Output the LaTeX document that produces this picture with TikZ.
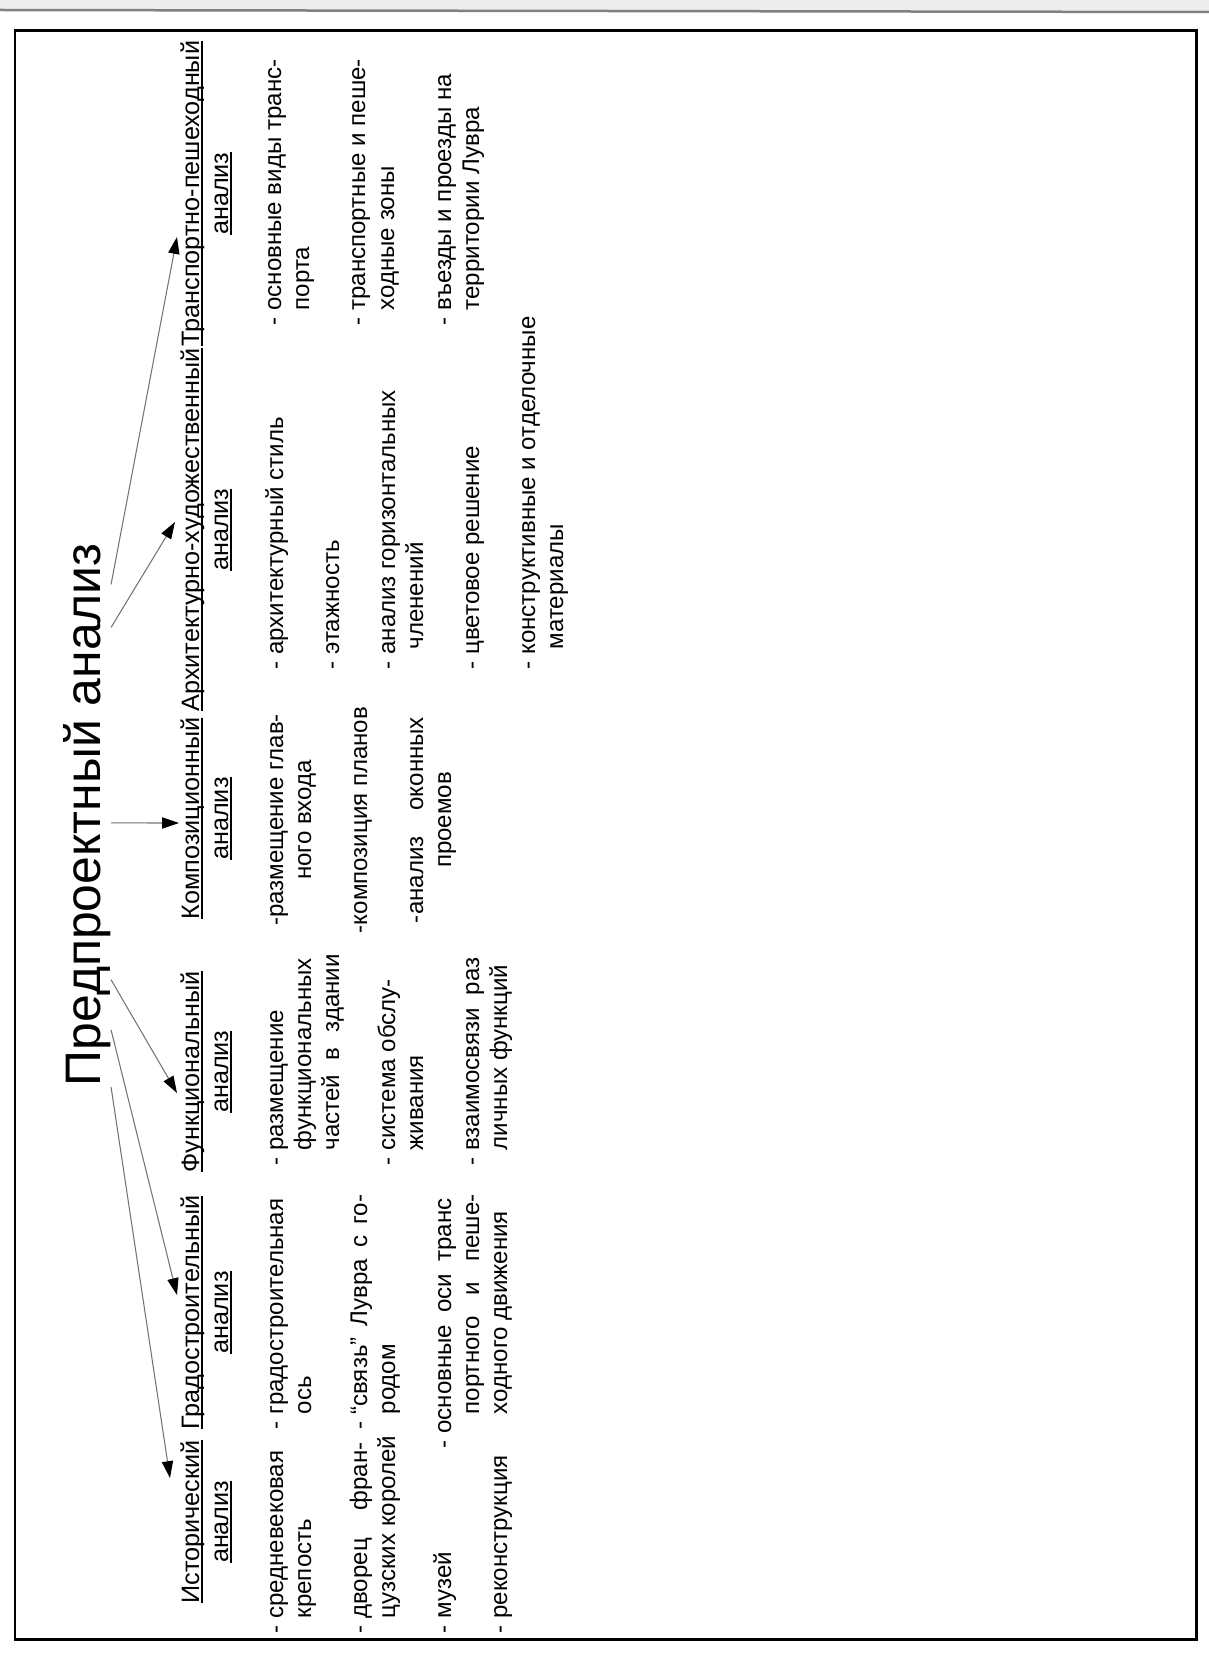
\documentclass[tikz,border=0pt]{standalone}
\usepackage{fontspec}
\setmainfont{Liberation Sans}
\usetikzlibrary{arrows.meta,calc}

% word underline at a fixed depth, as in the scanned table
\newcommand\ulword[1]{\setbox0\hbox{#1}\rlap{\rule[-0.14em]{\wd0}{0.07em}}\box0}

\begin{document}
\begin{tikzpicture}[
  x=0.1mm, y=-0.1mm,
  ttl/.style={rotate=90, anchor=base west, inner sep=0pt, font=\fontsize{14.2}{17}\selectfont},
  hd/.style={rotate=90, anchor=base west, inner sep=0pt, font=\fontsize{7.17}{8.6}\selectfont},
  hd2/.style={hd, anchor=base},
  itm/.style={rotate=90, anchor=base west, inner sep=0pt, font=\fontsize{6.85}{8.2}\selectfont},
  itmc/.style={itm, anchor=base},
  arrow/.style={draw=black!55, line width=0.3pt, -{Triangle[length=4.8pt,width=3.2pt,color=black]}}
]
\useasboundingbox (0,0) rectangle (1209,1653);
% scan edge and frame
\fill[black!7] (0,0) rectangle (1209,10);
\draw[black!50, line width=0.25mm] (0,10) -- (1209,12);
\draw[line width=0.85pt] (15,31) rectangle (1196,1639);

% title
\node[ttl] (title) at (100,1087) {Предпроектный анализ};

% headings
\node[hd] (hHist) at (199,1604) {\ulword{Исторический}};
\node[hd2] (aHist) at ($(hHist.base)+(29,0)$) {\ulword{анализ}};
\node[hd] (hGrad) at (199,1430) {\ulword{Градостроительный}};
\node[hd2] (aGrad) at ($(hGrad.base)+(29,0)$) {\ulword{анализ}};
\node[hd] (hFunc) at (199,1173) {\ulword{Функциональный}};
\node[hd2] (aFunc) at ($(hFunc.base)+(29,0)$) {\ulword{анализ}};
\node[hd] (hComp) at (199,920) {\ulword{Композиционный}};
\node[hd2] (aComp) at ($(hComp.base)+(29,0)$) {\ulword{анализ}};
\node[hd] (hArch) at (199,712) {\ulword{Архитектурно-художественный}};
\node[hd2] (aArch) at ($(hArch.base)+(29,0)$) {\ulword{анализ}};
\node[hd] (hTrans) at (199,347) {\ulword{Транспортно-пешеходный}};
\node[hd2] (aTrans) at ($(hTrans.base)+(29,0)$) {\ulword{анализ}};

% arrow tips
\coordinate (tHist) at (170,1478);
\coordinate (tGrad) at (177,1295);
\coordinate (tFunc) at (177,1093);
\coordinate (tComp) at (179,823);
\coordinate (tArch) at (175,522);
\coordinate (tTrans) at (177,237);
\draw[arrow] (title.south west) -- (tHist);
\draw[arrow] ($(title.south west)!0.105!(title.south east)$) -- (tGrad);
\draw[arrow] ($(title.south west)!0.197!(title.south east)$) -- (tFunc);
\draw[arrow] ($(title.south west)!0.485!(title.south east)$) -- (tComp);
\draw[arrow] ($(title.south west)!0.844!(title.south east)$) -- (tArch);
\draw[arrow] ($(title.south west)!0.923!(title.south east)$) -- (tTrans);

% historical
\node[itm] (hist1) at (283,1634) {- средневековая};
\node[itm] (hist2) at (311,1619) {крепость};
\node[itm] (hist3) at (367,1634) {- \makebox[17.6mm][s]{дворец фран-}};
\node[itm] (hist4) at (395,1619) {цузских королей};
\node[itm] (hist5) at (451,1634) {- музей};
\node[itm] (hist6) at (507,1634) {- реконструкция};

% town planning
\node[itm] (grad1) at (283,1430) {- градостроительная};
\node[itm] (grad2) at (311,1415) {ось};
\node[itm] (grad3) at (367,1430) {- \makebox[22mm][s]{“связь” Лувра с го-}};
\node[itm] (grad4) at (395,1415) {родом};
\node[itm] (grad5) at (451,1449) {- \makebox[23.5mm][s]{основные оси транс}};
\node[itm] (grad6) at (479,1415) {\makebox[22mm][s]{портного и пеше-}};
\node[itm] (grad7) at (507,1415) {ходного движения};

% functional
\node[itm] (func1) at (283,1166) {- размещение};
\node[itm] (func2) at (311,1151) {функциональных};
\node[itm] (func3) at (339,1151) {\makebox[19.6mm][s]{частей в здании}};
\node[itm] (func4) at (395,1166) {- система обслу-};
\node[itm] (func5) at (423,1151) {живания};
\node[itm] (func6) at (479,1166) {- \makebox[19.3mm][s]{взаимосвязи раз}};
\node[itm] (func7) at (507,1151) {личных функций};

% composition
\node[itmc] (comp1) at (283,820) {-размещение глав-};
\node[itmc] (comp2) at (311,820) {ного входа};
\node[itmc] (comp3) at (367,820) {-композиция планов};
\node[itmc] (comp4) at (423,820) {\makebox[20.6mm][s]{-анализ оконных}};
\node[itmc] (comp5) at (451,820) {проемов};

% architecture
\node[itm] (arch1) at (283,670) {- архитектурный стиль};
\node[itm] (arch2) at (339,670) {- этажность};
\node[itm] (arch3) at (395,670) {- анализ горизонтальных};
\node[itm] (arch4) at (423,650) {членений};
\node[itm] (arch5) at (479,670) {- цветовое решение};
\node[itm] (arch6) at (535,670) {- конструктивные и отделочные};
\node[itm] (arch7) at (563,650) {материалы};

% transport
\node[itm] (trans1) at (281,326) {- основные виды транс-};
\node[itm] (trans2) at (309,311) {порта};
\node[itm] (trans3) at (365,326) {- транспортные и пеше-};
\node[itm] (trans4) at (394,311) {ходные зоны};
\node[itm] (trans5) at (451,326) {- въезды и проезды на};
\node[itm] (trans6) at (479,311) {территории Лувра};
\end{tikzpicture}
\end{document}
